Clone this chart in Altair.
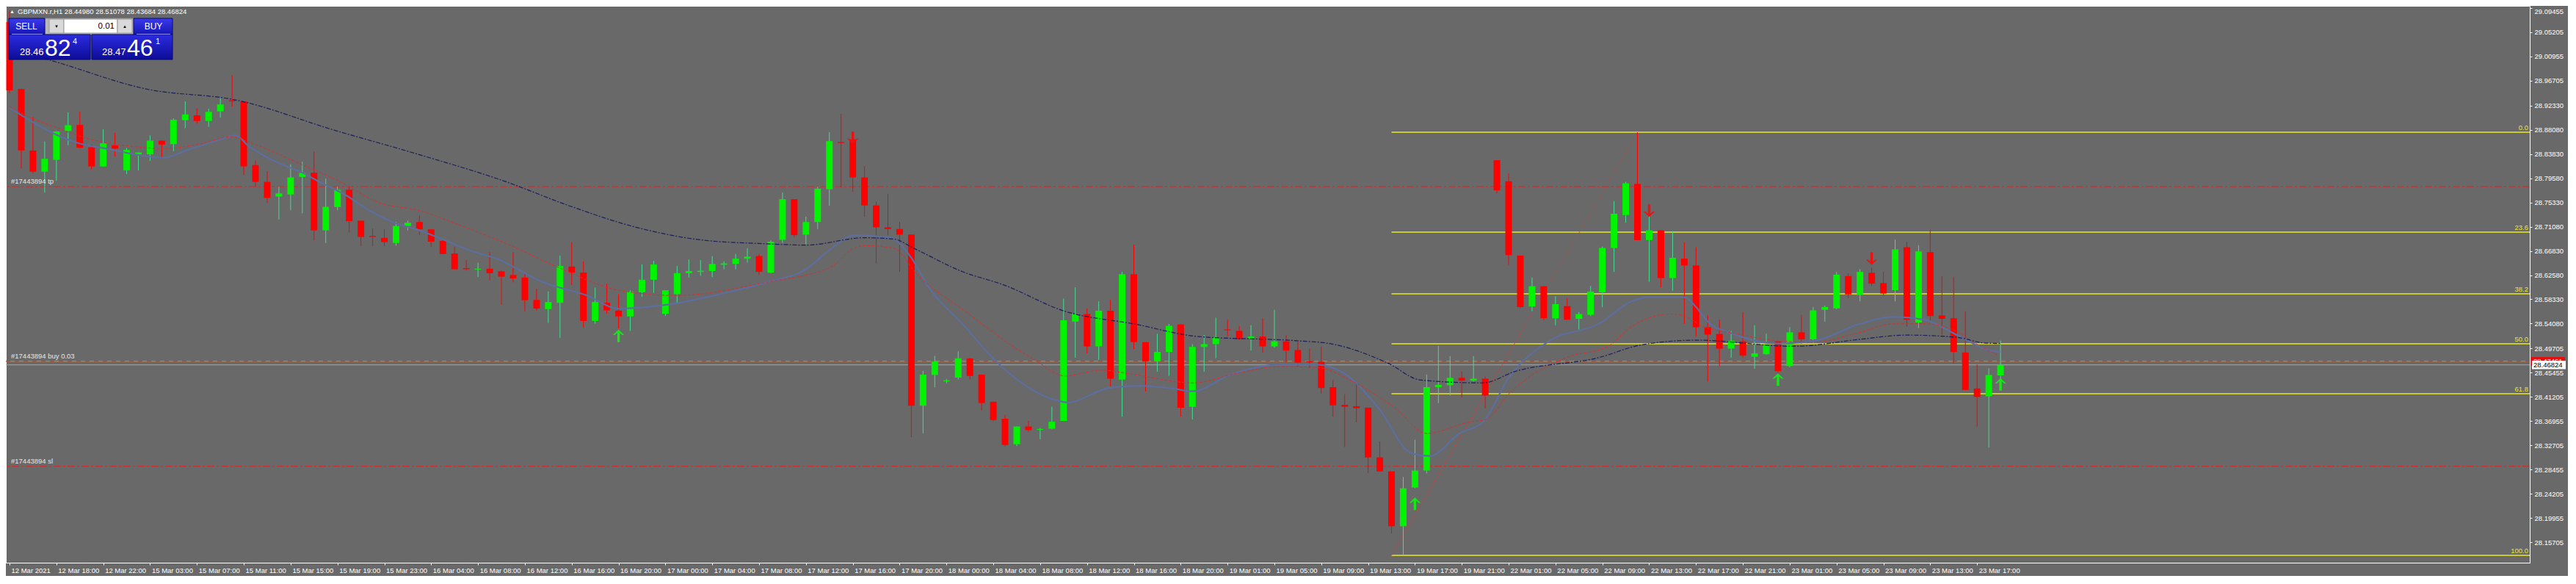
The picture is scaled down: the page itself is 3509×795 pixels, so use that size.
import json
import altair as alt
import pandas as pd
import numpy as np

# ---------------- data ----------------
TIME_LABELS = ['12 Mar 2021', '12 Mar 18:00', '12 Mar 22:00', '15 Mar 03:00', '15 Mar 07:00', '15 Mar 11:00',
               '15 Mar 15:00', '15 Mar 19:00', '15 Mar 23:00', '16 Mar 04:00', '16 Mar 08:00', '16 Mar 12:00',
               '16 Mar 16:00', '16 Mar 20:00', '17 Mar 00:00', '17 Mar 04:00', '17 Mar 08:00', '17 Mar 12:00',
               '17 Mar 16:00', '17 Mar 20:00', '18 Mar 00:00', '18 Mar 04:00', '18 Mar 08:00', '18 Mar 12:00',
               '18 Mar 16:00', '18 Mar 20:00', '19 Mar 01:00', '19 Mar 05:00', '19 Mar 09:00', '19 Mar 13:00',
               '19 Mar 17:00', '19 Mar 21:00', '22 Mar 01:00', '22 Mar 05:00', '22 Mar 09:00', '22 Mar 13:00',
               '22 Mar 17:00', '22 Mar 21:00', '23 Mar 01:00', '23 Mar 05:00', '23 Mar 09:00', '23 Mar 13:00',
               '23 Mar 17:00']

PRICE_TICKS = [29.09455, 29.05205, 29.00955, 28.96705, 28.92330, 28.88080, 28.83830, 28.79580, 28.75330,
               28.71080, 28.66830, 28.62580, 28.58330, 28.54080, 28.49705, 28.45455, 28.41205, 28.36955,
               28.32705, 28.28455, 28.24205, 28.19955, 28.15705, 28.11455]

opens = [29.0700, 28.9525, 28.8443, 28.8074, 28.8281, 28.8788, 28.8894, 28.8502, 28.8166, 28.8535,
         28.8097, 28.8378, 28.8378, 28.8618, 28.8558, 28.8977, 28.9064, 28.8963, 28.9133, 28.9327,
         28.9308, 28.8189, 28.7895, 28.7637, 28.7674, 28.7982, 28.8056, 28.7043, 28.7453, 28.7756,
         28.7213, 28.6946, 28.6914, 28.6822, 28.7121, 28.7190, 28.7061, 28.6859, 28.6637, 28.6380,
         28.6356, 28.6370, 28.6324, 28.6260, 28.6214, 28.5823, 28.5662, 28.5772, 28.6408, 28.6302,
         28.5454, 28.5772, 28.5634, 28.5533, 28.5956, 28.6177, 28.5579, 28.5924, 28.6292, 28.6315,
         28.6329, 28.6440, 28.6454, 28.6546, 28.6592, 28.6302, 28.6877, 28.7591, 28.6969, 28.7190,
         28.7766, 28.8595, 28.8641, 28.7973, 28.7481, 28.7098, 28.7066, 28.6969, 28.3967, 28.4506,
         28.4395, 28.4460, 28.4796, 28.4510, 28.4036, 28.3737, 28.3290, 28.3601, 28.3542, 28.3562,
         28.3700, 28.5442, 28.5575, 28.5007, 28.5634, 28.4425, 28.6275, 28.5081, 28.4746, 28.4909,
         28.5392, 28.3947, 28.4998, 28.5047, 28.5304, 28.5279, 28.5146, 28.5180, 28.5007, 28.5096,
         28.4943, 28.4746, 28.4736, 28.4292, 28.3981, 28.3957, 28.3932, 28.3059, 28.2812, 28.1850,
         28.2530, 28.2827, 28.4292, 28.4326, 28.4455, 28.4405, 28.4440, 28.8274, 28.7904, 28.6601,
         28.5708, 28.6063, 28.5501, 28.5713, 28.5491, 28.5560, 28.5955, 28.6734, 28.7312, 28.7859,
         28.6873, 28.7045, 28.6206, 28.6547, 28.6428, 28.5343, 28.5225, 28.4968, 28.5096, 28.4825,
         28.4870, 28.5096, 28.4662, 28.5254, 28.5131, 28.5649, 28.5674, 28.6241, 28.5910, 28.6300,
         28.6118, 28.5994, 28.6749, 28.5427, 28.6660, 28.5550, 28.5501, 28.4899, 28.4268, 28.4130,
         28.4498]

highs = [29.0900, 28.9530, 28.9032, 28.8604, 28.8785, 28.9115, 28.9124, 28.8548, 28.8816, 28.8756,
         28.8489, 28.8412, 28.8710, 28.8620, 28.9009, 28.9308, 28.9184, 28.9179, 28.9364, 28.9769,
         28.9310, 28.8272, 28.8079, 28.7812, 28.8203, 28.8249, 28.8433, 28.7950, 28.7812, 28.7812,
         28.7213, 28.7075, 28.7061, 28.7190, 28.7213, 28.7305, 28.7061, 28.6891, 28.6753, 28.6522,
         28.6476, 28.6660, 28.6338, 28.6660, 28.6292, 28.6016, 28.5970, 28.6601, 28.6836, 28.6500,
         28.6039, 28.6108, 28.5924, 28.5993, 28.6444, 28.6509, 28.5993, 28.6417, 28.6532, 28.6523,
         28.6592, 28.6500, 28.6629, 28.6730, 28.6629, 28.6868, 28.7706, 28.7591, 28.7283, 28.7812,
         28.8765, 28.9088, 28.8756, 28.8171, 28.7550, 28.7683, 28.7190, 28.6969, 28.4575, 28.4842,
         28.4437, 28.4920, 28.4805, 28.4510, 28.4036, 28.3806, 28.3601, 28.3700, 28.3577, 28.3947,
         28.5846, 28.6044, 28.5674, 28.5797, 28.5822, 28.6315, 28.6794, 28.5081, 28.5229, 28.5402,
         28.5402, 28.5047, 28.5205, 28.5511, 28.5476, 28.5363, 28.5378, 28.5501, 28.5649, 28.5205,
         28.5081, 28.4968, 28.5008, 28.4415, 28.4169, 28.4356, 28.3932, 28.3340, 28.2812, 28.2713,
         28.3369, 28.4514, 28.5017, 28.4835, 28.4563, 28.4835, 28.4475, 28.8274, 28.8042, 28.6601,
         28.6216, 28.6063, 28.5886, 28.5856, 28.5609, 28.6068, 28.6759, 28.7558, 28.7894, 28.8766,
         28.7302, 28.7045, 28.7030, 28.6833, 28.6749, 28.5550, 28.5476, 28.5279, 28.5609, 28.5378,
         28.5230, 28.5096, 28.5343, 28.5560, 28.5698, 28.5723, 28.6315, 28.6290, 28.6364, 28.6389,
         28.6315, 28.6882, 28.6843, 28.6784, 28.7055, 28.6241, 28.6231, 28.5624, 28.4687, 28.4623,
         28.5108]

lows = [28.9450, 28.8134, 28.8042, 28.7706, 28.7913, 28.8539, 28.8480, 28.8111, 28.8160, 28.8341,
        28.8033, 28.8097, 28.8263, 28.8304, 28.8433, 28.8839, 28.8917, 28.8862, 28.9023, 28.9216,
        28.8019, 28.7812, 28.7522, 28.7236, 28.7397, 28.7342, 28.6868, 28.6822, 28.7397, 28.7006,
        28.6766, 28.6766, 28.6766, 28.6776, 28.7043, 28.6960, 28.6753, 28.6628, 28.6361, 28.6338,
        28.6223, 28.6168, 28.5740, 28.6131, 28.5625, 28.5634, 28.5418, 28.5155, 28.6085, 28.5339,
        28.5404, 28.5579, 28.5325, 28.5279, 28.5878, 28.5947, 28.5542, 28.5763, 28.6214, 28.6246,
        28.6223, 28.6361, 28.6361, 28.6477, 28.6260, 28.6292, 28.6822, 28.6923, 28.6799, 28.7066,
        28.7476, 28.7798, 28.7720, 28.7283, 28.6463, 28.6960, 28.6315, 28.3414, 28.3483, 28.4289,
        28.4359, 28.4428, 28.4428, 28.3884, 28.3691, 28.3253, 28.3256, 28.3503, 28.3379, 28.3552,
        28.3700, 28.4810, 28.4884, 28.4771, 28.4307, 28.3774, 28.4958, 28.4218, 28.4563, 28.4489,
        28.3774, 28.3725, 28.4563, 28.4800, 28.5180, 28.5121, 28.4934, 28.4899, 28.4983, 28.4721,
        28.4652, 28.4627, 28.4179, 28.3774, 28.3241, 28.3675, 28.2787, 28.2812, 28.1726, 28.1339,
        28.2516, 28.2777, 28.4011, 28.4144, 28.4110, 28.4391, 28.3922, 28.7696, 28.6438, 28.5674,
        28.5624, 28.5461, 28.5378, 28.5476, 28.5304, 28.5540, 28.5698, 28.6315, 28.7178, 28.6873,
        28.6142, 28.6044, 28.5984, 28.5402, 28.5180, 28.4391, 28.4662, 28.4810, 28.4810, 28.4613,
        28.4860, 28.4539, 28.4638, 28.5057, 28.5057, 28.5442, 28.5659, 28.5856, 28.5797, 28.6068,
        28.5896, 28.5797, 28.5353, 28.5328, 28.5461, 28.5205, 28.4712, 28.4243, 28.3601, 28.3231,
        28.4368]

closes = [28.9500, 28.8447, 28.8074, 28.8300, 28.8779, 28.8889, 28.8493, 28.8166, 28.8572, 28.8479,
          28.8456, 28.8410, 28.8618, 28.8549, 28.8986, 28.9078, 28.8963, 28.9124, 28.9253, 28.9308,
          28.8166, 28.7895, 28.7614, 28.7692, 28.7973, 28.8051, 28.7043, 28.7457, 28.7756, 28.7204,
          28.6928, 28.6928, 28.6840, 28.7121, 28.7176, 28.7061, 28.6845, 28.6628, 28.6361, 28.6361,
          28.6370, 28.6292, 28.6232, 28.6200, 28.5818, 28.5671, 28.5786, 28.6417, 28.6302, 28.5454,
          28.5786, 28.5639, 28.5533, 28.5970, 28.6177, 28.6444, 28.5993, 28.6292, 28.6329, 28.6334,
          28.6454, 28.6463, 28.6546, 28.6583, 28.6315, 28.6845, 28.7591, 28.6960, 28.7190, 28.7775,
          28.8609, 28.8577, 28.7973, 28.7481, 28.7098, 28.7066, 28.6969, 28.3967, 28.4510, 28.4741,
          28.4410, 28.4796, 28.4487, 28.4013, 28.3714, 28.3276, 28.3601, 28.3537, 28.3557, 28.3685,
          28.5466, 28.5575, 28.5007, 28.5634, 28.4440, 28.6275, 28.5081, 28.4746, 28.4909, 28.5368,
          28.3932, 28.4998, 28.5047, 28.5165, 28.5289, 28.5131, 28.5180, 28.5007, 28.5096, 28.4934,
          28.4721, 28.4726, 28.4277, 28.3971, 28.3947, 28.3922, 28.3059, 28.2812, 28.1850, 28.2516,
          28.2827, 28.4292, 28.4331, 28.4455, 28.4405, 28.4440, 28.4144, 28.7746, 28.6611, 28.5698,
          28.6063, 28.5501, 28.5748, 28.5476, 28.5575, 28.5970, 28.6734, 28.7336, 28.7869, 28.6873,
          28.7045, 28.6206, 28.6562, 28.6428, 28.5343, 28.5215, 28.4968, 28.5106, 28.4845, 28.4884,
          28.5032, 28.4573, 28.5254, 28.5131, 28.5639, 28.5698, 28.6266, 28.5920, 28.6315, 28.6108,
          28.5935, 28.6710, 28.5476, 28.6675, 28.5540, 28.5491, 28.4909, 28.4243, 28.4120, 28.4504,
          28.4682]

# moving averages (bar position, value)
ma_slow_x = [0.0, 2.3, 12.0, 19.3, 27.7, 34.7, 42.3, 47.9, 53.5, 59.0, 64.6, 68.0, 73.0, 75.5, 77.2, 81.4,
             84.8, 90.1, 96.0, 101.5, 109.9, 112.7, 117.7, 120.5, 125.8, 128.5, 135.7, 139.3, 144.0,
             152.4, 158.0, 161.9, 166.3, 168.6, 170.0]
ma_slow_y = [29.0200, 29.0093, 28.9512, 28.9333, 28.8804, 28.8390, 28.7904, 28.7467, 28.7098, 28.6877,
             28.6808, 28.6785, 28.6914, 28.6891, 28.6730, 28.6316, 28.6093, 28.5624, 28.5402, 28.5180,
             28.5106, 28.5057, 28.4712, 28.4416, 28.4366, 28.4564, 28.4810, 28.5032, 28.5116, 28.5008,
             28.5131, 28.5205, 28.5166, 28.5067, 28.5057]

ma_mid_x = [0.0, 1.7, 4.0, 6.5, 10.1, 13.2, 16.0, 19.0, 20.4, 24.9, 27.7, 31.8, 34.9, 38.9, 42.3, 46.7,
            52.0, 56.8, 64.6, 70.2, 71.9, 73.1, 75.5, 77.5, 81.9, 85.5, 87.6, 90.1, 93.2, 96.0, 101.0,
            104.9, 108.5, 111.6, 114.9, 118.3, 121.0, 124.6, 126.1, 128.0, 132.9, 136.5, 138.5, 141.8,
            142.9, 144.6, 146.8, 151.0, 154.1, 158.0, 160.8, 163.5, 166.4, 167.7, 169.7]
ma_mid_y = [28.9216, 28.9032, 28.8848, 28.8664, 28.8526, 28.8480, 28.8549, 28.8687, 28.8595, 28.8203,
            28.7950, 28.7513, 28.7397, 28.7098, 28.6822, 28.6408, 28.5993, 28.5901, 28.6131, 28.6408,
            28.6707, 28.6776, 28.6730, 28.6269, 28.5579, 28.5030, 28.4761, 28.4489, 28.4588, 28.4514,
            28.4366, 28.4539, 28.4653, 28.4638, 28.4366, 28.3923, 28.3479, 28.3676, 28.3725, 28.4170,
            28.4810, 28.5008, 28.5353, 28.5575, 28.5550, 28.5353, 28.5254, 28.5106, 28.5081, 28.5254,
            28.5402, 28.5402, 28.5254, 28.5081, 28.4859]

ma_fast_x = [0.0, 5.9, 8.2, 13.2, 14.9, 17.7, 19.3, 20.4, 22.7, 24.9, 26.6, 28.8, 30.5, 32.7, 34.9, 37.2,
             39.4, 41.6, 45.6, 49.3, 52.0, 56.2, 60.2, 64.6, 68.0, 70.2, 72.1, 75.2, 76.9, 78.5, 81.4,
             84.2, 89.2, 90.4, 93.7, 96.5, 99.3, 101.0, 104.3, 108.5, 111.6, 114.1, 116.9, 119.7, 121.3,
             123.8, 125.8, 128.0, 131.5, 135.7, 138.5, 139.9, 143.0, 144.0, 145.2, 146.8, 151.0, 154.1,
             158.0, 160.8, 163.5, 166.3, 169.1, 170.0]
ma_fast_y = [28.9193, 28.8572, 28.8480, 28.8318, 28.8433, 28.8618, 28.8710, 28.8525, 28.8249, 28.8065,
             28.7881, 28.7651, 28.7420, 28.7190, 28.7052, 28.6868, 28.6684, 28.6546, 28.6131, 28.5901,
             28.5671, 28.5740, 28.5901, 28.6131, 28.6362, 28.6730, 28.6960, 28.6914, 28.6592, 28.6039,
             28.5395, 28.4750, 28.4071, 28.4023, 28.4267, 28.4317, 28.4267, 28.4218, 28.4514, 28.4687,
             28.4687, 28.4514, 28.3923, 28.3133, 28.3084, 28.3479, 28.3676, 28.4450, 28.5106, 28.5402,
             28.5797, 28.5871, 28.5871, 28.5698, 28.5402, 28.5254, 28.5057, 28.5106, 28.5402, 28.5525,
             28.5476, 28.5205, 28.4934, 28.4909]

# Fibonacci retracement
FIB_START_BAR = 118
FIB_HIGH_BAR = 139
FIB_LOW = 28.1339
FIB_HIGH = 28.8766
fib_levels = ['0.0', '23.6', '38.2', '50.0', '61.8', '100.0']
fib_prices = [28.8766, 28.7013, 28.5929, 28.5052, 28.4176, 28.1339]

# order lines
ORDER_TP = 28.7811
ORDER_OPEN = 28.47461
ORDER_SL = 28.2902
BID = 28.46824

# signal arrows
up_arrow_bars = [52, 120, 151, 170]
up_arrow_prices = [28.5190, 28.2244, 28.4425, 28.4341]
down_arrow_bars = [72, 140, 159]
down_arrow_prices = [28.8669, 28.7391, 28.6547]

# ---------------- layout ----------------
W, H = 3438, 758
X_DOMAIN = [0, W / 16]
Y_DOMAIN = [28.1210, 29.0984]
FONT = "Liberation Sans"
BG = "#696969"
GREEN = "#00f400"
GREEN_WICK = "#3fe08f"
RED = "#ff0000"

xs = alt.Scale(domain=X_DOMAIN, nice=False, zero=False)
ys = alt.Scale(domain=Y_DOMAIN, nice=False, zero=False)

label_expr = json.dumps(TIME_LABELS) + "[round(datum.value / 4)]"
x_axis = alt.Axis(values=list(range(0, 169, 4)), labelExpr=label_expr, orient="bottom", grid=False,
                  title=None, tickSize=3, tickColor="white", domainColor="white", labelColor="white",
                  labelFont=FONT, labelFontSize=9.5, labelAlign="left", labelBaseline="top",
                  labelPadding=2, labelOffset=2, labelOverlap=False, labelFlush=False, labelBound=False)
y_axis = alt.Axis(values=PRICE_TICKS, format=".5f", orient="right", grid=False, title=None,
                  tickSize=3, tickColor="white", domainColor="white", labelColor="white",
                  labelFont=FONT, labelFontSize=9.5, labelPadding=3, labelOverlap=False,
                  labelFlush=False, labelBound=False,
                  labelBaseline={"condition": {"test": "datum.value > 29.09", "value": "top"},
                                 "value": "middle"})


def X(f):
    return alt.X(f, type="quantitative", scale=xs, axis=x_axis)


def Y(f):
    return alt.Y(f, type="quantitative", scale=ys, axis=y_axis)


n = min(len(opens), len(highs), len(lows), len(closes))
cdf = pd.DataFrame({"i": np.arange(n), "o": opens[:n], "h": highs[:n], "l": lows[:n], "c": closes[:n]})
cdf["dir"] = np.where(cdf["c"] >= cdf["o"], "up", "down")

wicks = alt.Chart(cdf).mark_rule(strokeWidth=1, clip=True).encode(
    x=X("i"), y=Y("l"), y2="h",
    color=alt.condition("datum.dir == 'up'", alt.value(GREEN_WICK), alt.value(RED)))
bodies = alt.Chart(cdf).mark_bar(size=9, clip=True).encode(
    x=X("i"), y=Y("o"), y2="c",
    color=alt.condition("datum.dir == 'up'", alt.value(GREEN), alt.value(RED)))


def ma_layer(xv, yv, color, width, dash=None):
    d = pd.DataFrame({"x": xv, "y": yv})
    kw = dict(color=color, strokeWidth=width, interpolate="monotone", clip=True)
    if dash:
        kw["strokeDash"] = dash
    return alt.Chart(d).mark_line(**kw).encode(x=X("x"), y=Y("y"), order="x:Q")


ma_fast = ma_layer(ma_fast_x, ma_fast_y, "#5d6f9f", 2.2)
ma_mid = ma_layer(ma_mid_x, ma_mid_y, "#d63030", 1, [4, 2])
ma_slow = ma_layer(ma_slow_x, ma_slow_y, "#1b1f5a", 1.2, [6, 2, 2, 2])

# order lines
tp_sl = alt.Chart(pd.DataFrame({"p": [ORDER_TP, ORDER_SL]})).mark_rule(
    color="#e02424", strokeWidth=1, strokeDash=[10, 3, 3, 3]).encode(y=Y("p"))
open_line_a = alt.Chart(pd.DataFrame({"p": [ORDER_OPEN]})).mark_rule(
    color="#e08a1c", strokeWidth=1).encode(y=Y("p"))
open_line_b = alt.Chart(pd.DataFrame({"p": [ORDER_OPEN]})).mark_rule(
    color="#e02424", strokeWidth=1, strokeDash=[6, 6]).encode(y=Y("p"))
bid_line = alt.Chart(pd.DataFrame({"p": [BID]})).mark_rule(
    color="#a9a9a9", strokeWidth=1).encode(y=Y("p"))

order_labels = alt.Chart(pd.DataFrame({
    "p": [ORDER_TP, ORDER_OPEN, ORDER_SL],
    "t": ["#17443894 tp", "#17443894 buy 0.03", "#17443894 sl"]})).mark_text(
    align="left", baseline="bottom", dy=-2, font=FONT, fontSize=9.5, color="#e6e6e6").encode(
    x=alt.value(7), y=Y("p"), text="t:N")

# fibonacci
fdf = pd.DataFrame({"lvl": fib_levels, "p": fib_prices, "s": [FIB_START_BAR] * len(fib_levels)})
fib_lines = alt.Chart(fdf).mark_rule(color="#e8e82a", strokeWidth=1.4).encode(
    x=X("s"), x2=alt.value(W), y=Y("p"))
fib_text = alt.Chart(fdf).mark_text(align="right", baseline="bottom", dy=-1, font=FONT, fontSize=9.5,
                                    color="#e8e82a").encode(x=alt.value(W - 2), y=Y("p"), text="lvl:N")
fib_diag = alt.Chart(pd.DataFrame({"x": [FIB_START_BAR, FIB_HIGH_BAR], "y": [FIB_LOW, FIB_HIGH]})).mark_line(
    color="#d23c3c", strokeWidth=1, strokeDash=[2, 2]).encode(x=X("x"), y=Y("y"))

# arrows
UP_PATH = "M0,-1 L0.9,-0.15 L0.55,-0.15 L0.2,-0.5 L0.2,1 L-0.2,1 L-0.2,-0.5 L-0.55,-0.15 L-0.9,-0.15 Z"
DOWN_PATH = "M0,1 L0.9,0.15 L0.55,0.15 L0.2,0.5 L0.2,-1 L-0.2,-1 L-0.2,0.5 L-0.55,0.15 L-0.9,0.15 Z"
up_arrows = alt.Chart(pd.DataFrame({"x": up_arrow_bars, "y": up_arrow_prices})).mark_point(
    shape=UP_PATH, filled=True, size=290, color="#19e619", opacity=1, strokeWidth=0).encode(x=X("x"), y=Y("y"))
down_arrows = alt.Chart(pd.DataFrame({"x": down_arrow_bars, "y": down_arrow_prices})).mark_point(
    shape=DOWN_PATH, filled=True, size=290, color="#ee1111", opacity=1, strokeWidth=0).encode(x=X("x"), y=Y("y"))

# ---------------- trading panel / header (screen chrome) ----------------
ONE = pd.DataFrame({"k": [0]})


def grad(c1, c2):
    return alt.LinearGradient(gradient="linear", x1=0, x2=0, y1=0, y2=1,
                              stops=[alt.GradientStop(color=c1, offset=0), alt.GradientStop(color=c2, offset=1)])


def ui_rect(x1, y1, x2, y2, fill, stroke=None):
    kw = dict(fill=fill)
    if stroke:
        kw.update(stroke=stroke, strokeWidth=1)
    return alt.Chart(ONE).mark_rect(**kw).encode(
        x=alt.value(x1), x2=alt.value(x2), y=alt.value(y1), y2=alt.value(y2))


def ui_text(x, y, t, size, color="white", align="left", baseline="alphabetic", weight="normal"):
    return alt.Chart(ONE).mark_text(text=t, font=FONT, fontSize=size, color=color, align=align,
                                    baseline=baseline, fontWeight=weight).encode(
        x=alt.value(x), y=alt.value(y))


BLUE = grad("#3a3aec", "#1616b4")
BLUE2 = grad("#2c2ce0", "#0c0c98")
panel = [
    ui_rect(53, 17, 174, 39, "#b8b8b8", "#8a8a8a"),
    ui_rect(59, 18, 79, 37, "#d9d9d9", "#9a9a9a"),
    ui_rect(79, 18, 152, 37, "#ffffff", "#9a9a9a"),
    ui_rect(152, 18, 172, 37, "#d9d9d9", "#9a9a9a"),
    ui_rect(4, 17, 53, 39, BLUE, "#0a0a70"),
    ui_rect(174, 17, 227, 39, BLUE, "#0a0a70"),
    ui_rect(4, 39, 115, 73, BLUE2, "#0a0a70"),
    ui_rect(117, 39, 227, 73, BLUE2, "#0a0a70"),
    ui_rect(8, 38, 50, 39, "#8c8cff"),
    ui_rect(178, 38, 224, 39, "#8c8cff"),
    ui_text(28, 28, "SELL", 12, align="center", baseline="middle"),
    ui_text(201, 28, "BUY", 12, align="center", baseline="middle"),
    ui_text(69, 28, "▼", 6, color="#000000", align="center", baseline="middle"),
    ui_text(162, 28, "▲", 6, color="#000000", align="center", baseline="middle"),
    ui_text(148, 28, "0.01", 11.5, color="#000000", align="right", baseline="middle"),
    ui_text(19, 67, "28.46", 13),
    ui_text(53, 68, "82", 32),
    ui_text(91, 52, "4", 11),
    ui_text(131, 67, "28.47", 13),
    ui_text(165, 68, "46", 32),
    ui_text(204, 52, "1", 11),
    ui_text(5, 8, "▲", 7, align="left", baseline="middle"),
    ui_text(16, 8, "GBPMXN.r,H1  28.44980 28.51078 28.43684 28.46824", 9.5, baseline="middle"),
]

# price boxes on the right scale
BOX = "M-1,-0.25 L1,-0.25 L1,0.25 L-1,0.25 Z"
open_box = alt.Chart(pd.DataFrame({"p": [ORDER_OPEN]})).mark_point(
    shape=BOX, filled=True, size=46 * 46, color="#e01010", opacity=1, strokeWidth=0).encode(
    x=alt.value(W + 25), y=Y("p"))
open_box_t = alt.Chart(pd.DataFrame({"p": [ORDER_OPEN], "t": ["28.47461"]})).mark_text(
    align="left", baseline="middle", font=FONT, fontSize=9.5, color="white").encode(
    x=alt.value(W + 5), y=Y("p"), text="t:N")
bid_box = alt.Chart(pd.DataFrame({"p": [BID]})).mark_point(
    shape=BOX, filled=True, size=46 * 46, color="#ffffff", opacity=1, strokeWidth=0).encode(
    x=alt.value(W + 26), y=Y("p"))
bid_box_t = alt.Chart(pd.DataFrame({"p": [BID], "t": ["28.46824"]})).mark_text(
    align="left", baseline="middle", font=FONT, fontSize=9.5, color="#000000").encode(
    x=alt.value(W + 5), y=Y("p"), text="t:N")

layers = [tp_sl, open_line_a, open_line_b, bid_line, fib_lines, fib_diag,
          wicks, bodies, ma_fast, ma_mid, ma_slow, up_arrows, down_arrows,
          order_labels, fib_text] + panel + [open_box, open_box_t, bid_box, bid_box_t]

chart = alt.layer(*layers).properties(
    width=W, height=H,
    autosize=alt.AutoSizeParams(type="none"),
    padding={"left": 0, "top": 0, "right": 52, "bottom": 18},
).configure(background=BG).configure_view(stroke="white", strokeWidth=1)

chart.save("out.html", embed_options={"renderer": "svg", "actions": False})
